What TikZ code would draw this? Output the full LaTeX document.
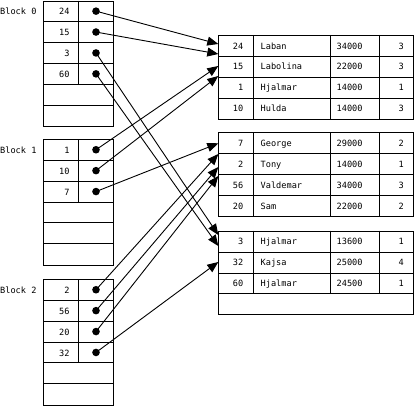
\documentclass[tikz,border=0pt]{standalone}
\usepackage{fontspec}
\setmonofont{DejaVu Sans Mono}
\usetikzlibrary{arrows.meta}
\tikzset{
  txt/.style={font=\ttfamily\fontsize{8.6}{10}\selectfont, inner sep=0pt},
  dot/.style={circle, fill=black, inner sep=0pt, minimum size=7.6pt},
  ptr/.style={-{Triangle[length=11pt,width=9pt]}, line width=0.9pt},
  grid/.style={line width=0.95pt},
  rowbox/.style={draw, line width=0.95pt, minimum width=195pt, minimum height=20.9pt, inner sep=0pt, anchor=north west},
}
\begin{document}
\begin{tikzpicture}[x=1pt,y=-1pt]
\useasboundingbox (0,0) rectangle (414,406);
% index blocks
\foreach \k/\top/\nums/\cnt in {0/0.7/{24,15,3,60}/4, 1/139.3/{1,10,7}/3, 2/279.3/{2,56,20,32}/4}{
  \node[txt, anchor=base west] (lab\k) at (0,\top+10.45+3.3) {Block \k};
  \node[rowbox, minimum width=70pt, minimum height=125.4pt] (blk\k) at (43.3,\top) {};
  \foreach \j in {1,...,5}{\draw[grid] (43.3,\top+\j*20.9) -- (113.3,\top+\j*20.9);}
  \draw[grid] (78.7,\top) -- (78.7,\top+\cnt*20.9);
  \foreach \n [count=\i] in \nums {
    \node[txt, anchor=base east] (v\k n\n) at (69.8,\top+\i*20.9-10.45+3.6) {\n};
    \node[dot] (b\k n\n) at (96,\top+\i*20.9-10.45) {};
  }
}
% data tables
\foreach \a/\b/\c/\d [count=\i] in {24/Laban/34000/3, 15/Labolina/22000/3, 1/Hjalmar/14000/1, 10/Hulda/14000/3}{
  \node[rowbox] (ta\i) at (218.3,35+\i*20.9-20.9) {};
  \node[txt, anchor=base east] (taa\i) at (243.5,35+\i*20.9-10.45+3.6) {\a};
  \node[txt, anchor=base west] (tab\i) at (260.5,35+\i*20.9-10.45+3.6) {\b};
  \node[txt, anchor=base west] (tac\i) at (336.5,35+\i*20.9-10.45+3.6) {\c};
  \node[txt, anchor=base east] (tad\i) at (404,35+\i*20.9-10.45+3.6) {\d};
}
\foreach \x in {253.3,330,379.3}{\draw[grid] (\x,35) -- (\x,35+4*20.9);}
\foreach \a/\b/\c/\d [count=\i] in {7/George/29000/2, 2/Tony/14000/1, 56/Valdemar/34000/3, 20/Sam/22000/2}{
  \node[rowbox] (tb\i) at (218.3,132.3+\i*20.9-20.9) {};
  \node[txt, anchor=base east] (tba\i) at (243.5,132.3+\i*20.9-10.45+3.6) {\a};
  \node[txt, anchor=base west] (tbb\i) at (260.5,132.3+\i*20.9-10.45+3.6) {\b};
  \node[txt, anchor=base west] (tbc\i) at (336.5,132.3+\i*20.9-10.45+3.6) {\c};
  \node[txt, anchor=base east] (tbd\i) at (404,132.3+\i*20.9-10.45+3.6) {\d};
}
\foreach \x in {253.3,330,379.3}{\draw[grid] (\x,132.3) -- (\x,132.3+4*20.9);}
\foreach \a/\b/\c/\d [count=\i] in {3/Hjalmar/13600/1, 32/Kajsa/25000/4, 60/Hjalmar/24500/1}{
  \node[rowbox] (tc\i) at (218.3,230.7+\i*20.9-20.9) {};
  \node[txt, anchor=base east] (tca\i) at (243.5,230.7+\i*20.9-10.45+3.6) {\a};
  \node[txt, anchor=base west] (tcb\i) at (260.5,230.7+\i*20.9-10.45+3.6) {\b};
  \node[txt, anchor=base west] (tcc\i) at (336.5,230.7+\i*20.9-10.45+3.6) {\c};
  \node[txt, anchor=base east] (tcd\i) at (404,230.7+\i*20.9-10.45+3.6) {\d};
}
\node[rowbox] (tc4) at (218.3,230.7+3*20.9) {};
\foreach \x in {253.3,330,379.3}{\draw[grid] (\x,230.7) -- (\x,230.7+3*20.9);}
% arrow end points
\coordinate (e24) at (218.3,44);
\coordinate (e15) at (218.3,54);
\coordinate (e1) at (218.3,66);
\coordinate (e10) at (218.3,76);
\coordinate (e7) at (218.3,143.3);
\coordinate (e2) at (218.3,154);
\coordinate (e56) at (218.3,167);
\coordinate (e20) at (218.3,176);
\coordinate (e3) at (218.3,235);
\coordinate (e60) at (218.3,246);
\coordinate (e32) at (218.3,262);
% pointers
\draw[ptr] (b0n24.center) -- (e24);
\draw[ptr] (b0n15.center) -- (e15);
\draw[ptr] (b0n3.center) -- (e3);
\draw[ptr] (b0n60.center) -- (e60);
\draw[ptr] (b1n1.center) -- (e1);
\draw[ptr] (b1n10.center) -- (e10);
\draw[ptr] (b1n7.center) -- (e7);
\draw[ptr] (b2n2.center) -- (e2);
\draw[ptr] (b2n56.center) -- (e56);
\draw[ptr] (b2n20.center) -- (e20);
\draw[ptr] (b2n32.center) -- (e32);
\end{tikzpicture}
\end{document}
